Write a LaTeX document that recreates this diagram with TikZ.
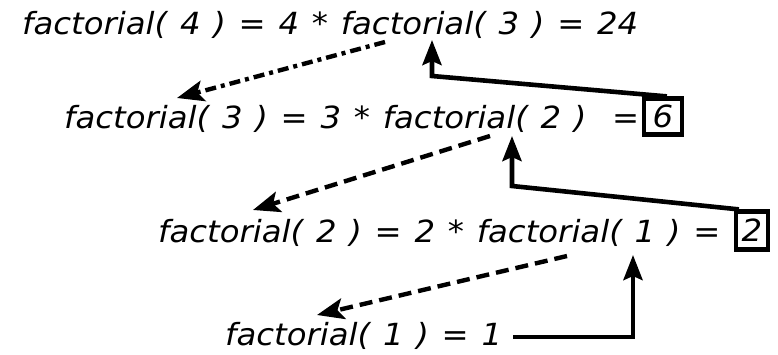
\documentclass[tikz,border=0pt]{standalone}
\usepackage{fontspec}
\setmainfont{DejaVu Sans}[FakeStretch=1.06, WordSpace=1.24]
\usepackage{tikz}
\usetikzlibrary{positioning, arrows.meta, calc}

\begin{document}
\begin{tikzpicture}[x=1pt, y=1pt,
    calltext/.style={inner sep=0pt, anchor=base west, font=\fontsize{30.5}{36}\selectfont\itshape},
    resbox/.style={draw, line width=4.2pt, inner sep=0pt, font=\fontsize{30.5}{36}\selectfont\itshape},
    callline/.style={line width=4.4pt, dash pattern=on 13pt off 7pt, -{Stealth[length=27pt, width=21pt, inset=6pt]}},
    retline/.style={line width=4.6pt, -{Stealth[length=25pt, width=19pt, inset=4pt]}}]
  \useasboundingbox (0,0) rectangle (778,354);

  \node[calltext] (f4) at (22,319) {factorial( 4 ) = 4 * factorial( 3 ) = 24};
  \node[calltext] (f3) at (64,225.5) {factorial( 3 ) = 3 * factorial( 2 )\ \ =};
  \node[calltext] (f2) at (158,112) {factorial( 2 ) = 2 * factorial( 1 ) =};
  \node[calltext] (f1) at (225,9) {factorial( 1 ) = 1};

  \node[resbox, minimum width=38pt, minimum height=36pt] (r3) at (663,237.5) {6};
  \node[resbox, minimum width=32pt, minimum height=38pt] (r2) at (752,123.5) {2};

  \coordinate (b3) at ($(f3.base west)+(368,52.5)$);
  \coordinate (b2) at ($(f2.base west)+(354,56)$);
  \coordinate (b1) at ($(f1.base west)+(408,8)$);

  \draw[callline, dash pattern=on 11pt off 5pt on 4pt off 5pt] ($(f4.base west)+(363,-7)$) -- ($(f3.base west)+(113,30.5)$);
  \draw[callline] ($(f3.base west)+(426,-7.5)$) -- ($(f2.base west)+(95,32)$);
  \draw[callline] ($(f2.base west)+(409,-14)$) -- ($(f1.base west)+(92,30)$);

  \draw[retline] ($(r3.north west)+(25,0)$) -- (b3) -- ($(f4.base west)+(410,-5)$);
  \draw[retline] ($(r2.north west)+(5,0)$) -- (b2) -- ($(f3.base west)+(448,-7.5)$);
  \draw[retline] ($(f1.base west)+(288,8)$) -- (b1) -- ($(f2.base west)+(475,-13)$);
\end{tikzpicture}
\end{document}
